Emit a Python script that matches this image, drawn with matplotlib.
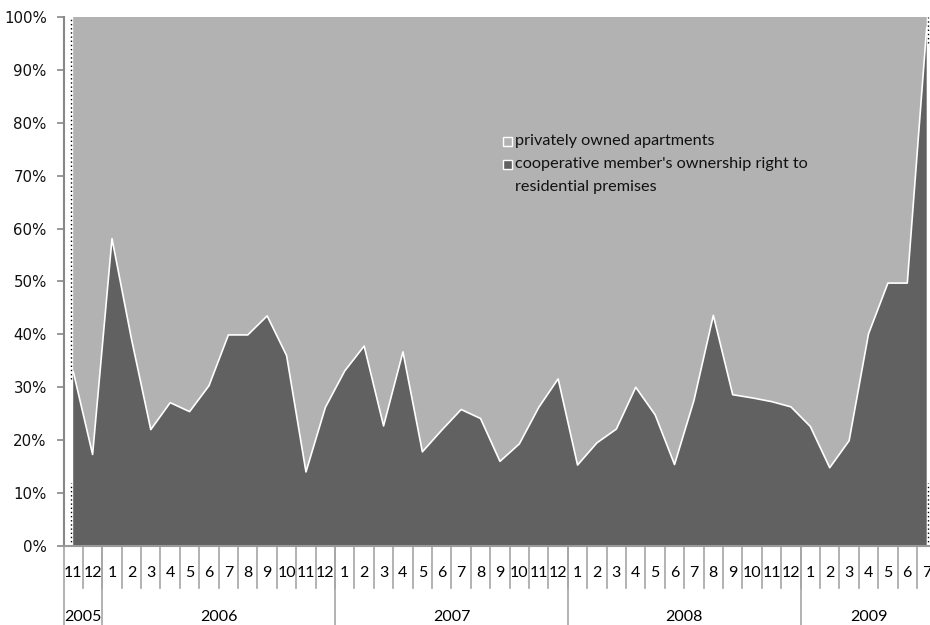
import matplotlib
matplotlib.use("Agg")
import matplotlib.pyplot as plt
from matplotlib.patches import Rectangle
from matplotlib.ticker import PercentFormatter
import matplotlib.transforms as mtransforms

# month labels and the year groups they belong to
months = [11, 12,
          1, 2, 3, 4, 5, 6, 7, 8, 9, 10, 11, 12,
          1, 2, 3, 4, 5, 6, 7, 8, 9, 10, 11, 12,
          1, 2, 3, 4, 5, 6, 7, 8, 9, 10, 11, 12,
          1, 2, 3, 4, 5, 6, 7]
years = ['2005', '2006', '2007', '2008', '2009']
year_counts = [2, 12, 12, 12, 7]

# share of cooperative member's ownership right, in %
coop = [33.0, 17.3,
        58.1, 39.2, 22.0, 27.1, 25.4, 30.3, 39.9, 39.9, 43.5, 36.0, 14.0, 26.2,
        33.1, 37.8, 22.7, 36.7, 17.8, 21.9, 25.8, 24.1, 16.0, 19.3, 26.2, 31.6,
        15.3, 19.5, 22.1, 30.0, 24.8, 15.4, 27.5, 43.6, 28.6, 28.0, 27.3, 26.3,
        22.6, 14.8, 19.9, 40.1, 49.7, 49.7, 98.0]
private = [100 - v for v in coop]

labels = ['privately owned apartments',
          "cooperative member's ownership right to\nresidential premises"]

dark = '#616161'
light = '#b2b2b2'
sep_col = '#a6a6a6'

W, H = 930, 625
fig = plt.figure(figsize=(W / 100, H / 100), dpi=100)
ax = fig.add_axes([63.5 / W, 79 / H, 872.9 / W, 529 / H])

x = list(range(len(coop)))
ax.stackplot(x, coop, private, colors=[dark, light], linewidth=0)
ax.plot(x, coop, color='white', lw=1.2)

# odd dotted lines at the ends of the series
ax.vlines([-0.1, -0.1], [31.5, 0], [100, 12], colors='black',
          linestyles=(0, (1, 2)), lw=1)
ax.vlines([44.05, 44.05], [95, 0], [100, 12], colors='black',
          linestyles=(0, (1, 2)), lw=1)

ax.set_xlim(-0.5, 44.5)
ax.set_ylim(0, 100)
ax.set_yticks(range(0, 101, 10))
ax.yaxis.set_major_formatter(PercentFormatter(decimals=0))
ax.tick_params(axis='y', length=5, width=1.2, color='#888888', pad=7,
               labelsize=10.8, labelcolor='#111111')
ax.set_xticks([])

for s in ['top', 'right']:
    ax.spines[s].set_visible(False)
ax.spines['left'].set_color('#888888')
ax.spines['left'].set_linewidth(1.5)
ax.spines['bottom'].set_color('#999999')
ax.spines['bottom'].set_linewidth(1.5)

# two-level category axis
trans = mtransforms.blended_transform_factory(ax.transData, ax.transAxes)
for i, m in enumerate(months):
    ax.text(i, -0.051, str(m), transform=trans, ha='center', va='center',
            fontsize=11.5, family='Lato', color='#000000')
for i in range(1, len(months)):
    ax.plot([i - 0.5, i - 0.5], [0, -0.079], transform=trans, color=sep_col,
            lw=1.2, clip_on=False)

start = 0
for yr, n in zip(years, year_counts):
    ax.plot([start - 0.5, start - 0.5], [0, -0.2], transform=trans,
            color=sep_col, lw=1.2, clip_on=False)
    ax.text(start + (n - 1) / 2, -0.134, yr, transform=trans, ha='center',
            va='center', fontsize=11.5, family='Lato', color='#000000')
    start += n

# legend drawn by hand, Excel style
leg_font = dict(fontsize=11.7, family='Lato', color='#111111',
                ha='left', va='center')
sq = 9
for (cy, col) in [(142, light), (164, dark)]:
    fig.add_artist(Rectangle(((507 - sq / 2) / W, 1 - (cy + sq / 2) / H),
                             sq / W, sq / H, transform=fig.transFigure,
                             facecolor=col, edgecolor='white', lw=1))
fig.text(515 / W, 1 - 141 / H, labels[0], **leg_font)
first, second = labels[1].split('\n')
fig.text(515 / W, 1 - 164 / H, first, **leg_font)
fig.text(515 / W, 1 - 187 / H, second, **leg_font)

fig.savefig('out.png', dpi=100)
